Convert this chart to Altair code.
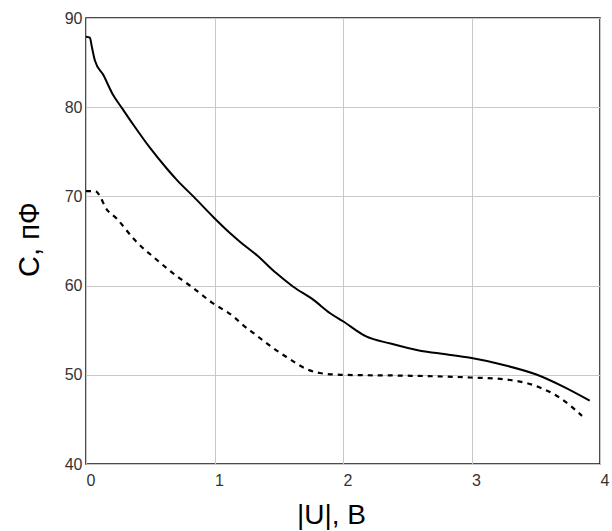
import altair as alt
import pandas as pd

# Capacitance vs. bias voltage magnitude: solid and dashed curves
u_solid = [0.0, 0.03, 0.045, 0.07, 0.135, 0.21, 0.28, 0.37, 0.50, 0.63, 0.71,
           0.835, 0.99, 1.12, 1.2, 1.33, 1.48, 1.61, 1.77, 1.90, 2.0, 2.18,
           2.37, 2.60, 2.80, 2.99, 3.25, 3.51, 3.71, 3.92]
c_solid = [87.9, 87.8, 86.8, 85.2, 83.6, 81.4, 79.9, 78.0, 75.4, 73.1, 71.8,
           70.0, 67.7, 65.9, 64.9, 63.4, 61.4, 59.9, 58.4, 56.9, 56.0, 54.3,
           53.5, 52.7, 52.3, 51.9, 51.1, 50.0, 48.7, 47.1]

u_dash = [0.0, 0.07, 0.11, 0.15, 0.24, 0.38, 0.55, 0.73, 0.81, 0.98, 1.15,
          1.22, 1.32, 1.39, 1.56, 1.74, 1.82, 1.98, 2.5, 2.99, 3.25, 3.51,
          3.69, 3.86]
c_dash = [70.6, 70.6, 70.0, 68.8, 67.5, 65.1, 62.9, 60.8, 60.0, 58.1, 56.5,
          55.6, 54.5, 53.7, 52.0, 50.5, 50.2, 50.0, 49.9, 49.7, 49.5, 48.7,
          47.4, 45.4]

x_ticks = [0, 1, 2, 3, 4]
y_ticks = [40, 50, 60, 70, 80, 90]

solid_df = pd.DataFrame({"u": u_solid, "c": c_solid})
dash_df = pd.DataFrame({"u": u_dash, "c": c_dash})

FONT = "Liberation Sans"

x_enc = alt.X(
    "u:Q",
    scale=alt.Scale(domain=[0, 4], nice=False, zero=False),
    axis=alt.Axis(
        values=x_ticks, title="|U|, B", grid=True, ticks=False, domain=False,
        labelAlign="left", labelFlush=False, labelPadding=8,
        labelFontSize=16, labelColor="#333333", labelFont=FONT,
        titleFontSize=28, titleFontWeight="normal", titleFont=FONT,
        titleColor="#000000", titleX=245, titleY=59,
        titleBaseline="alphabetic", titleAlign="center",
    ),
)
y_enc = alt.Y(
    "c:Q",
    scale=alt.Scale(domain=[40, 90], nice=False, zero=False),
    axis=alt.Axis(
        values=y_ticks, title="C, пФ", grid=True, ticks=False, domain=False,
        labelPadding=4, labelFlush=False, labelBaseline="middle",
        labelFontSize=16, labelColor="#333333", labelFont=FONT,
        titleFontSize=29, titleFontWeight="normal", titleFont=FONT,
        titleColor="#000000", titleAngle=270, titleX=-48, titleY=221,
        titleBaseline="alphabetic", titleAlign="center",
    ),
)

solid = alt.Chart(solid_df).mark_line(
    color="#000000", strokeWidth=2, interpolate="monotone"
).encode(x=x_enc, y=y_enc)
dashed = alt.Chart(dash_df).mark_line(
    color="#000000", strokeWidth=2.2, strokeDash=[5, 5], interpolate="monotone"
).encode(x=x_enc, y=y_enc)

chart = (
    alt.layer(solid, dashed)
    .properties(
        width=514,
        height=446,
        autosize=alt.AutoSizeParams(type="none"),
        padding={"left": 86, "top": 18, "right": 12, "bottom": 67},
        background="#ffffff",
    )
    .configure_view(stroke="#111111", strokeWidth=1.5)
    .configure_axis(gridColor="#c8c8c8", gridWidth=1, gridOpacity=1)
)

chart.save("out.html", embed_options={"renderer": "svg", "actions": False})
